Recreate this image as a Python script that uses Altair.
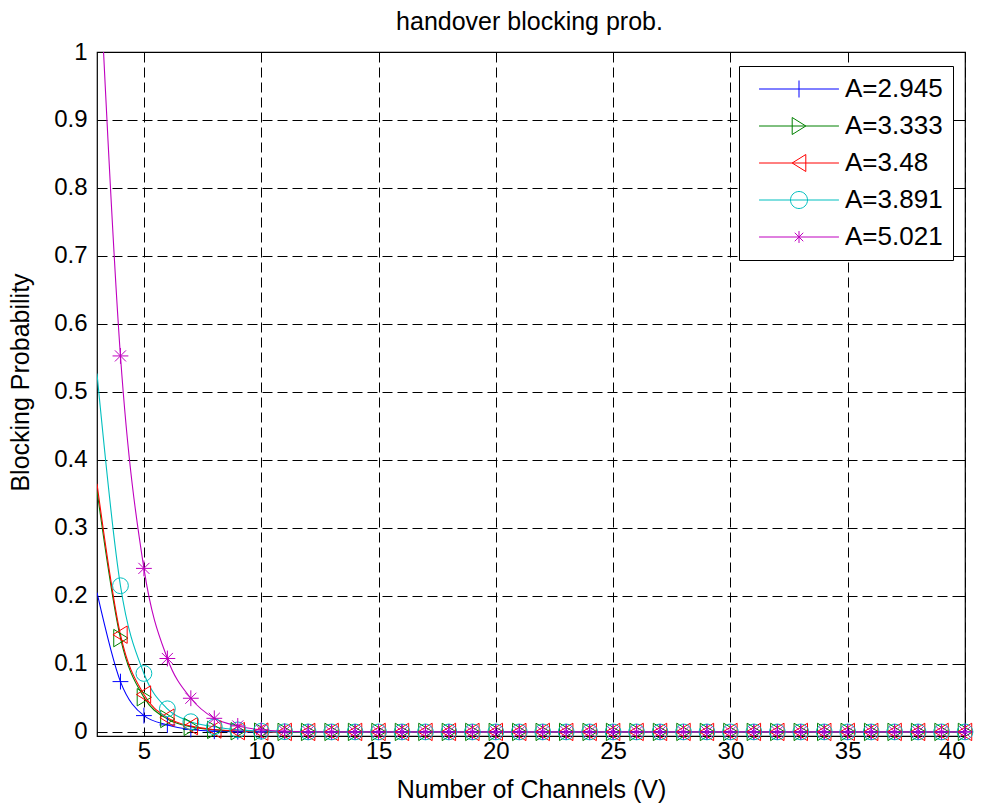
import altair as alt
import pandas as pd

# ---------------- data ----------------
channels = list(range(3, 41))
series_labels = ["A=2.945", "A=3.333", "A=3.48", "A=3.891", "A=5.021"]
series_colors = ["#0000ff", "#008000", "#ff0000", "#00bfbf", "#bf00bf"]

N = len(channels)


def pad(vals):
    return vals + [0.0] * (N - len(vals))


vals_a2945 = pad([0.205, 0.074, 0.024, 0.0103, 0.0035, 0.001, 0.0003])
vals_a3333 = pad([0.355, 0.138, 0.051, 0.019, 0.0075, 0.003, 0.001, 0.0003])
vals_a348 = pad([0.365, 0.143, 0.055, 0.021, 0.0085, 0.0035, 0.0012, 0.0004])
vals_a3891 = pad([0.527, 0.215, 0.086, 0.034, 0.015, 0.0075, 0.003, 0.001, 0.0003])
vals_a5021 = pad([1.2, 0.553, 0.2405, 0.108, 0.0495, 0.020, 0.0088, 0.003, 0.001, 0.0003])

all_vals = [vals_a2945, vals_a3333, vals_a348, vals_a3891, vals_a5021]

x_ticks = [5, 10, 15, 20, 25, 30, 35, 40]
y_ticks = [0, 0.1, 0.2, 0.3, 0.4, 0.5, 0.6, 0.7, 0.8, 0.9, 1.0]

chart_title = "handover blocking prob."

rows = []
for label, vals in zip(series_labels, all_vals):
    for xv, yv in zip(channels, vals):
        rows.append({"V": xv, "P": yv, "series": label})
df = pd.DataFrame(rows)

# marker shapes (plot) and legend symbols (line + marker)
marker_paths = [
    "M-1,0L1,0M0,-1L0,1",
    "M-0.85,-1.1L0.95,0L-0.85,1.1Z",
    "M0.85,-1.1L-0.95,0L0.85,1.1Z",
    "circle",
    "M-1,0L1,0M0,-1L0,1M-0.7,-0.7L0.7,0.7M-0.7,0.7L0.7,-0.7",
]
L = 4.7
legend_paths = [
    f"M-{L},0L{L},0M0,-1L0,1",
    f"M-{L},0L{L},0M-0.8,-1L0.8,0L-0.8,1Z",
    f"M-{L},0L{L},0M0.8,-1L-0.8,0L0.8,1Z",
    f"M-{L},0L{L},0M1,0A1,1,0,1,1,-1,0A1,1,0,1,1,1,0Z",
    f"M-{L},0L{L},0M0,-0.7L0,0.7M-0.5,-0.5L0.5,0.5M-0.5,0.5L0.5,-0.5",
]

FONT = "Liberation Sans"
xdom = [3, 40]
ydom = [-0.006, 1.0]


def cscale():
    return alt.Scale(domain=series_labels, range=series_colors)


base = alt.Chart(df)

lines = base.mark_line(clip=True, strokeWidth=1.1, interpolate="monotone").encode(
    x=alt.X("V:Q", scale=alt.Scale(domain=xdom, nice=False, zero=False),
            axis=alt.Axis(values=x_ticks, title="Number of Channels (V)",
                          tickSize={"expr": "-7"}, labelPadding=10,
                          titleY=61, titleBaseline="alphabetic")),
    y=alt.Y("P:Q", scale=alt.Scale(domain=ydom, nice=False, zero=False),
            axis=alt.Axis(values=y_ticks, format="~g", title="Blocking Probability",
                          tickSize={"expr": "-7"}, labelPadding=17,
                          titleX=-69, titleY=330, titleBaseline="alphabetic")),
    color=alt.Color("series:N", scale=cscale(), legend=None),
)

points = base.transform_filter("datum.V >= 4").mark_point(
    filled=False, size=250, strokeWidth=1, opacity=1
).encode(
    x=alt.X("V:Q", scale=alt.Scale(domain=xdom, nice=False, zero=False),
            axis=alt.Axis(values=x_ticks, orient="top", labels=False, grid=False,
                          domain=False, title=chart_title, tickSize={"expr": "-7"},
                          titleX=432, titleY=-23, titleBaseline="alphabetic",
                          titleAlign="center", titleAnchor="middle")),
    y=alt.Y("P:Q", scale=alt.Scale(domain=ydom, nice=False, zero=False),
            axis=alt.Axis(values=y_ticks, orient="right", labels=False, grid=False,
                          domain=False, title=None, tickSize={"expr": "-7"})),
    color=alt.Color("series:N", scale=cscale(), legend=None),
    shape=alt.Shape("series:N", scale=alt.Scale(domain=series_labels, range=marker_paths),
                    legend=None),
)

legend_layer = base.transform_filter("datum.V >= 4").mark_point(
    filled=False, opacity=0, size=250
).encode(
    x=alt.X("V:Q", scale=alt.Scale(domain=xdom, nice=False, zero=False), axis=None),
    y=alt.Y("P:Q", scale=alt.Scale(domain=ydom, nice=False, zero=False), axis=None),
    color=alt.Color("series:N", scale=cscale(),
                    legend=alt.Legend(title=None, symbolOpacity=1)),
    shape=alt.Shape("series:N", scale=alt.Scale(domain=series_labels, range=legend_paths),
                    legend=alt.Legend(title=None, symbolOpacity=1)),
)

chart = alt.layer(lines, points, legend_layer).resolve_scale(
    shape="independent", color="independent"
).resolve_axis(
    x="independent", y="independent"
).properties(
    width=868,
    height=684,
    autosize=alt.AutoSizeParams(type="none"),
    padding={"left": 97, "top": 52, "right": 18, "bottom": 71},
).configure_view(
    stroke="black", strokeWidth=1.2
).configure_axis(
    domain=False,
    grid=True,
    gridColor="black",
    gridOpacity=1,
    gridWidth=1,
    gridDash=[10, 5],
    tickColor="black",
    tickWidth=1,
    labelFont=FONT,
    labelFontSize=24,
    labelColor="black",
    titleFont=FONT,
    titleFontSize=25,
    titleFontWeight="normal",
    titleColor="black",
).configure_legend(
    orient="none",
    legendX=642,
    legendY=14,
    labelFont=FONT,
    labelFontSize=26,
    labelColor="black",
    strokeColor="black",
    fillColor="white",
    padding=10,
    rowPadding=11,
    symbolSize=289,
    symbolStrokeWidth=1,
    symbolOffset=37,
    labelOffset=33,
    cornerRadius=0,
)

chart.save("out.html", embed_options={"renderer": "svg", "actions": False})
